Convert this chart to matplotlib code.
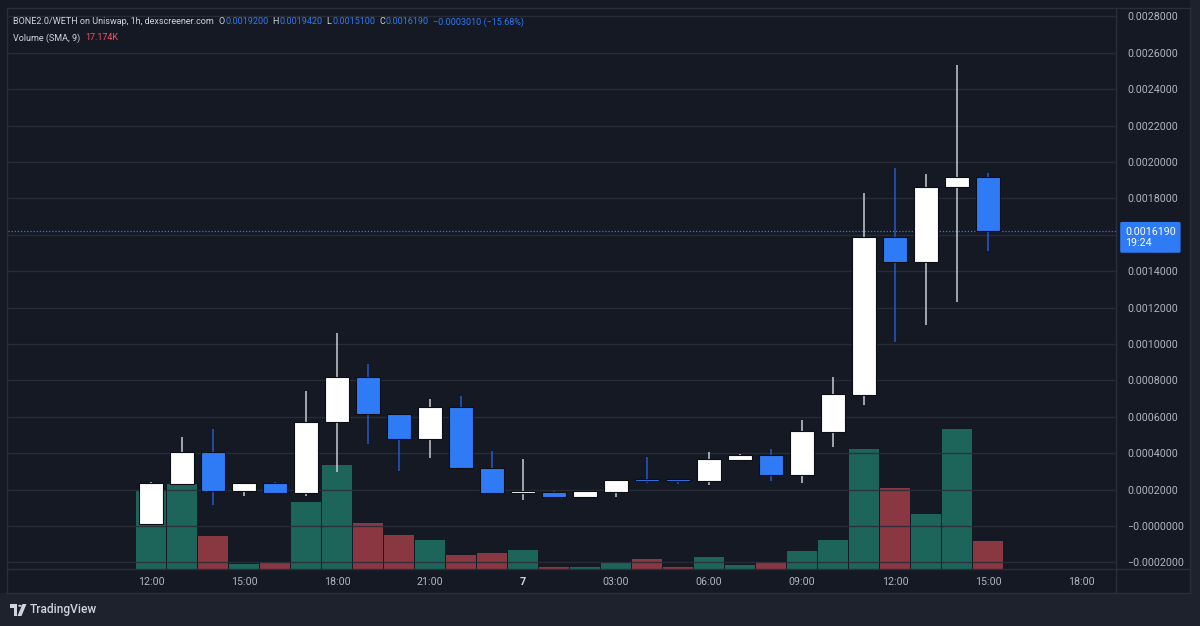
import matplotlib
matplotlib.use("Agg")
import matplotlib.pyplot as plt
from matplotlib.patches import Rectangle, Polygon, Circle
from matplotlib.lines import Line2D
from matplotlib.transforms import blended_transform_factory

plt.rcParams["font.family"] = ["Roboto", "DejaVu Sans"]

# hourly candles, 12:00 on the 6th through 15:00 on the 7th
opens = [0.000011, 0.000231, 0.000408, 0.000194, 0.000235, 0.000180, 0.000570, 0.000820,
         0.000615, 0.000480, 0.000652, 0.000319, 0.000182, 0.000185, 0.000158, 0.000187,
         0.000249, 0.000249, 0.000246, 0.000364, 0.000390, 0.000279, 0.000518, 0.000720,
         0.001586, 0.001452, 0.001864, 0.001920]
highs = [0.000242, 0.000487, 0.000531, 0.000235, 0.000242, 0.000743, 0.001062, 0.000888,
         0.000615, 0.000698, 0.000714, 0.000412, 0.000366, 0.000194, 0.000191, 0.000251,
         0.000377, 0.000249, 0.000405, 0.000395, 0.000423, 0.000582, 0.000817, 0.001828,
         0.001967, 0.001934, 0.002533, 0.001942]
lows = [0.000005, 0.000231, 0.000114, 0.000166, 0.000180, 0.000166, 0.000298, 0.000449,
        0.000302, 0.000375, 0.000312, 0.000180, 0.000143, 0.000158, 0.000158, 0.000158,
        0.000235, 0.000231, 0.000227, 0.000358, 0.000249, 0.000235, 0.000432, 0.000665,
        0.001009, 0.001104, 0.001232, 0.001510]
closes = [0.000235, 0.000408, 0.000194, 0.000235, 0.000180, 0.000570, 0.000820, 0.000615,
          0.000480, 0.000652, 0.000317, 0.000180, 0.000183, 0.000158, 0.000191, 0.000251,
          0.000246, 0.000246, 0.000366, 0.000390, 0.000280, 0.000520, 0.000724, 0.001586,
          0.001452, 0.001864, 0.001920, 0.001619]
volumes = [25400, 27300, 10500, 1700, 1800, 21500, 33200, 14800, 11000, 9400, 4600, 5000,
           6000, 800, 650, 1900, 3100, 650, 3900, 1150, 2350, 5900, 9400, 38450, 26050,
           17450, 44900, 9000]

time_ticks = [0, 3, 6, 9, 12, 15, 18, 21, 24, 27, 30]
time_labels = ["12:00", "15:00", "18:00", "21:00", "7", "03:00", "06:00", "09:00",
               "12:00", "15:00", "18:00"]
price_ticks = [-0.0002, 0.0, 0.0002, 0.0004, 0.0006, 0.0008, 0.0010, 0.0012, 0.0014,
               0.0016, 0.0018, 0.0020, 0.0022, 0.0024, 0.0026, 0.0028]
# 0.0016000 sits under the last-price badge, so its label is hidden
price_labels = ["\u22120.0002000", "\u22120.0000000", "0.0002000", "0.0004000", "0.0006000",
                "0.0008000", "0.0010000", "0.0012000", "0.0014000", "",
                "0.0018000", "0.0020000", "0.0022000", "0.0024000", "0.0026000", "0.0028000"]

BG = "#151924"
FRAME = "#1e222d"
LINE = "#2a2e39"
TEXT = "#b2b5be"
UP = "#ffffff"
DOWN = "#2f7bf5"
VOL_UP = "#24a488"
VOL_DOWN = "#ea5059"

W, H = 1200, 626
fig = plt.figure(figsize=(W / 100, H / 100), dpi=100, facecolor=BG)

def fx(px):
    return px / W

def fy(py):
    return 1 - py / H

# frame around the chart panel
fig.patches.append(Rectangle((0, 0), 1, fy(593), transform=fig.transFigure, fc=FRAME, ec="none", zorder=0))
fig.patches.append(Rectangle((fx(1190), 0), 1 - fx(1190), 1, transform=fig.transFigure, fc=FRAME, ec="none", zorder=0))
for (x0, y0, x1, y1) in [(7, 8, 1190, 8), (7, 8, 7, 593), (7, 593, 1190, 593), (1190, 8, 1190, 593),
                         (1116, 8, 1116, 593), (7, 569, 1190, 569)]:
    fig.lines.append(Line2D([fx(x0), fx(x1)], [fy(y0), fy(y1)], transform=fig.transFigure, color=LINE, lw=1))

rect = [fx(8), fy(569), fx(1116) - fx(8), fy(8) - fy(569)]
ax_vol = fig.add_axes(rect, facecolor=BG)
ax = fig.add_axes(rect, sharex=ax_vol)
ax.set_zorder(ax_vol.get_zorder() + 1)
ax.patch.set_visible(False)

n = len(closes)
xs = list(range(n))
up = [c >= o for o, c in zip(opens, closes)]

# volume overlay
ax_vol.bar(xs, volumes, width=0.96, color=[VOL_UP if u else VOL_DOWN for u in up], alpha=0.55,
           edgecolor="none")
ax_vol.set_ylim(0, max(volumes) * 4.0)
ax_vol.set_yticks([])
ax_vol.tick_params(axis="x", length=0, labelbottom=False)
for s in ax_vol.spines.values():
    s.set_visible(False)

# candles
for i in xs:
    col = UP if up[i] else DOWN
    wick = "#c9cbd1" if up[i] else "#2659c6"
    ax.vlines(i, lows[i], highs[i], color=wick, lw=1.1, zorder=3)
    body = max(abs(closes[i] - opens[i]), 0.000012)
    ax.bar(i, body, bottom=min(opens[i], closes[i]), width=0.78, color=col,
           edgecolor="#0b0e15", linewidth=0.8, zorder=4)

ax.set_xlim(-4.61, 31.13)
ax.set_ylim(-0.000236, 0.002846)

ax.set_yticks(price_ticks)
ax.set_yticklabels(price_labels)
ax.yaxis.tick_right()
ax.tick_params(axis="y", length=0, pad=8, labelsize=7.7, labelcolor=TEXT)
ax.grid(axis="y", color=LINE, lw=1, alpha=0.9)
ax.set_axisbelow(True)

ax.set_xticks(time_ticks)
ax.set_xticklabels(time_labels)
ax.tick_params(axis="x", length=0, pad=6, labelsize=7.7, labelcolor=TEXT)
for lbl in ax.get_xticklabels():
    if lbl.get_text() == "7":
        lbl.set_fontweight("bold")
        lbl.set_color("#d1d4dc")
for s in ax.spines.values():
    s.set_visible(False)

# last price line and label
last = closes[-1]
ax.axhline(last, color=DOWN, lw=0.9, ls=(0, (1, 1.5)), zorder=2)
trans = blended_transform_factory(ax.transAxes, ax.transData)
ax.annotate(f"{last:.7f}\n19:24", xy=(1.0, last), xycoords=trans, xytext=(9, -6),
            textcoords="offset pixels", ha="left", va="center", fontsize=7.7, color="white",
            linespacing=1.15,
            bbox=dict(boxstyle="round,pad=0.45,rounding_size=0.15", fc=DOWN, ec="none"),
            annotation_clip=False, zorder=6)

# legend header, pieces laid out one after another
renderer = fig.canvas.get_renderer()
blue_txt = "#3179f5"
grey_txt = "#d1d4dc"
fs = 6.5

def chain(y, pieces, x=13):
    for s, c, gap in pieces:
        x += gap
        t = fig.text(fx(x), fy(y), s, ha="left", va="center", fontsize=fs, color=c)
        x = t.get_window_extent(renderer).x1

chain(22, [("BONE2.0/WETH on Uniswap, 1h, dexscreener.com", grey_txt, 0),
           ("O", grey_txt, 5), (f"{opens[-1]:.7f}", blue_txt, 0.5),
           ("H", grey_txt, 4), (f"{highs[-1]:.7f}", blue_txt, 0.5),
           ("L", grey_txt, 4), (f"{lows[-1]:.7f}", blue_txt, 0.5),
           ("C", grey_txt, 4), (f"{closes[-1]:.7f}", blue_txt, 0.5),
           ("\u22120.0003010 (\u221215.68%)", blue_txt, 5)])
chain(38, [("Volume (SMA, 9)", grey_txt, 0), ("17.174K", "#f7525f", 5)])

# TradingView mark, bottom left
logo = "#d1d4dc"
fig.patches.append(Polygon([(fx(10), fy(604)), (fx(17), fy(604)), (fx(17), fy(616)), (fx(14), fy(616)),
                            (fx(14), fy(607.5)), (fx(10), fy(607.5))], closed=True,
                           transform=fig.transFigure, fc=logo, ec="none"))
fig.patches.append(Circle((fx(20), fy(605.8)), 1.8 / W, transform=fig.transFigure, fc=logo, ec="none"))
fig.patches.append(Polygon([(fx(22.5), fy(604)), (fx(26.5), fy(604)), (fx(21.5), fy(616)), (fx(17.5), fy(616))],
                           closed=True, transform=fig.transFigure, fc=logo, ec="none"))
fig.text(fx(30), fy(610), "TradingView", ha="left", va="center", fontsize=8.6, color=logo,
         fontweight="medium")

fig.savefig("out.png", dpi=100, facecolor=fig.get_facecolor())
